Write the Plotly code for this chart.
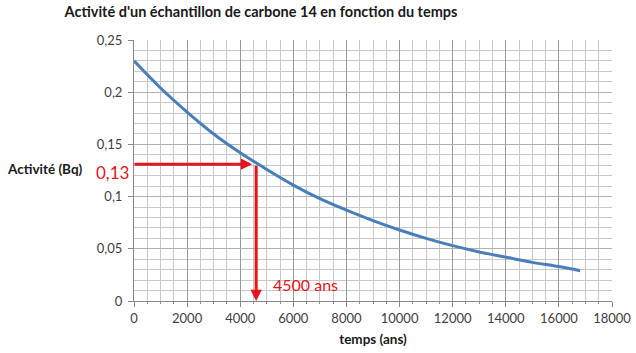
import plotly.graph_objects as go

# Data
temps = [0, 1000, 2000, 3000, 4000, 5000, 6000, 7000, 8000, 9000, 10000,
         11000, 12000, 13000, 14000, 15000, 16000, 16800]
activite = [0.230, 0.204, 0.181, 0.160, 0.142, 0.126, 0.111, 0.098, 0.087,
            0.077, 0.068, 0.060, 0.053, 0.047, 0.042, 0.037, 0.033, 0.029]

lecture_activite = 0.131
lecture_temps = 4600
label_activite = "0,13"
label_temps = "4500 ans"

FONT = "Lato"
RED = "#e8141b"

fig = go.Figure()
fig.add_trace(go.Scatter(
    x=temps, y=activite, mode="lines", line=dict(color="#4a7ebb", width=3, shape="spline"),
    showlegend=False, hoverinfo="skip"))

fig.update_layout(
    width=636, height=353,
    margin=dict(l=134, r=24, t=40, b=52),
    paper_bgcolor="white", plot_bgcolor="white",
    separators=", ",
    font=dict(family=FONT, size=13, color="#404040"),
    title=dict(text="<b>Activité d'un échantillon de carbone 14 en fonction du temps</b>",
               x=261/636, xref="container", xanchor="center",
               y=1 - 12/353, yref="container", yanchor="middle",
               font=dict(family=FONT, size=14.5, color="#1a1a1a")),
    xaxis=dict(range=[0, 18000], dtick=2000, tick0=0, tickformat="d", automargin=False,
               showgrid=True, gridcolor="#9a9a9a",
               gridwidth=1, showline=True, linecolor="#888888", linewidth=1,
               ticks="outside", ticklen=5, tickcolor="#888888", zeroline=False,
               tickfont=dict(family=FONT, size=13, color="#404040"),
               minor=dict(dtick=500, showgrid=True, gridcolor="#c8c8c8", ticks="outside",
                          ticklen=2, tickcolor="#888888"),
               title=dict(text="<b>temps (ans)</b>", standoff=9,
                          font=dict(family=FONT, size=13.5, color="#1a1a1a"))),
    yaxis=dict(range=[0, 0.25], dtick=0.05, tick0=0, showgrid=True, gridcolor="#b0b0b0",
               automargin=False,
               showline=True, linecolor="#888888", linewidth=1, ticks="outside",
               ticklen=5, tickcolor="#888888", zeroline=False, ticklabelstandoff=3,
               tickfont=dict(family=FONT, size=13, color="#404040"),
               minor=dict(dtick=0.01, showgrid=True, gridcolor="#c8c8c8")),
)

fig.add_annotation(text="<b>Activité (Bq)</b>", xref="paper", yref="paper",
                   x=(85 - 134) / 478, y=(301 - 169) / 261, xanchor="right", yanchor="middle",
                   showarrow=False, font=dict(family=FONT, size=13.5, color="#1a1a1a"))
fig.add_annotation(text=label_activite, xref="paper", yref="paper",
                   x=(131 - 134) / 478, y=(301 - 172) / 261, xanchor="right", yanchor="middle",
                   showarrow=False, font=dict(family=FONT, size=17, color=RED))
fig.add_annotation(text=label_temps, xref="x", yref="y", x=5150, y=0.0155,
                   xanchor="left", yanchor="middle", showarrow=False,
                   font=dict(family=FONT, size=16, color=RED))

# Horizontal arrow (reading the activity)
fig.add_annotation(x=lecture_temps - 150, y=lecture_activite, ax=-40, ay=lecture_activite,
                   xref="x", yref="y", axref="x", ayref="y", text="", showarrow=True,
                   arrowhead=2, arrowsize=0.75, arrowwidth=3, arrowcolor=RED)
# Vertical arrow (reading the time)
fig.add_annotation(x=lecture_temps, y=0, ax=lecture_temps, ay=lecture_activite,
                   xref="x", yref="y", axref="x", ayref="y", text="", showarrow=True,
                   arrowhead=2, arrowsize=0.75, arrowwidth=3, arrowcolor=RED)

fig.write_html("out.html")
